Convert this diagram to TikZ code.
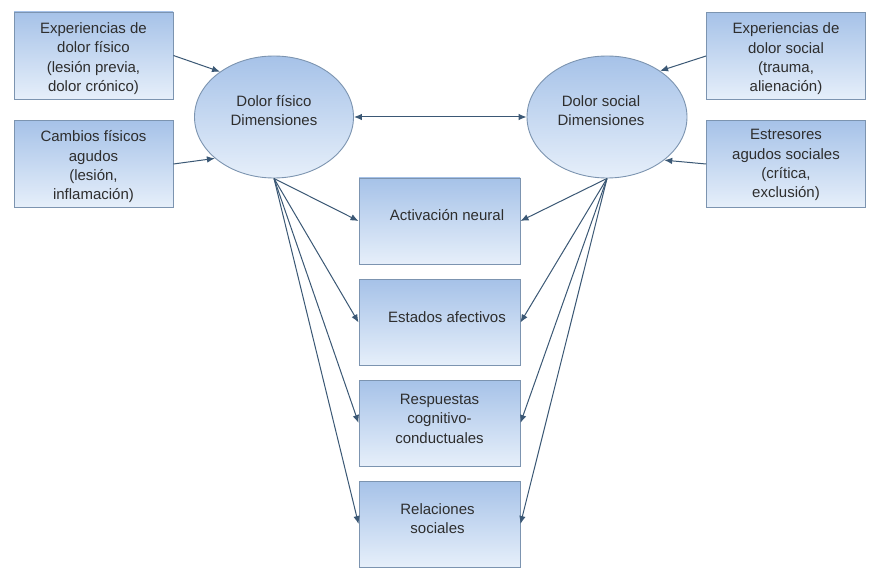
\documentclass[tikz,border=0pt]{standalone}
\usepackage{fontspec}
\setmainfont{Liberation Sans}
\usetikzlibrary{arrows.meta,shapes.geometric}
\definecolor{boxtop}{HTML}{A6C2E8}
\definecolor{boxbot}{HTML}{E6EFFA}
\definecolor{boxline}{HTML}{7C94B0}
\definecolor{arrowc}{HTML}{3B5875}
\newcommand{\placetext}[3]{\kern#1\raisebox{#2}[\height][\depth]{\begin{tabular}{@{}c@{}}#3\end{tabular}}}
\tikzset{
  txt/.style={font=\fontsize{15pt}{19.3pt}\selectfont, text=black!82},
  inbox/.style={txt, rectangle, draw=boxline, line width=0.9pt, top color=boxtop, bottom color=boxbot, minimum width=159pt, minimum height=87pt, inner sep=0pt},
  midbox/.style={inbox, minimum width=161pt, minimum height=86pt},
  dimell/.style={txt, ellipse, draw=boxline, line width=0.9pt, top color=boxtop, bottom color=boxbot, minimum width=159pt, minimum height=122pt, inner sep=0pt},
  arr/.style={draw=arrowc, line width=1pt, -{Latex[length=8pt,width=6.5pt]}},
  darr/.style={draw=arrowc, line width=1pt, {Latex[length=8pt,width=6.5pt]}-{Latex[length=8pt,width=6.5pt]}}
}
\begin{document}
\begin{tikzpicture}[x=1pt,y=1pt]
\useasboundingbox[fill=white] (0,0) rectangle (872,-572);
% left inputs
\node[inbox] (pe) at (93.5,-55.5) {\placetext{0pt}{-3pt}{Experiencias de\\dolor físico\\(lesión previa,\\dolor crónico)}};
\node[inbox] (pc) at (93.5,-164) {\placetext{0pt}{-3pt}{Cambios físicos\\agudos\\(lesión,\\inflamación)}};
% right inputs
\node[inbox] (se) at (786,-56) {\placetext{0pt}{-3pt}{Experiencias de\\dolor social\\(trauma,\\alienación)}};
\node[inbox] (sa) at (786,-164) {\placetext{0pt}{-1pt}{Estresores\\agudos sociales\\(crítica,\\exclusión)}};
% ellipses
\node[dimell] (lp) at (274,-117) {\placetext{0pt}{5pt}{Dolor físico\\Dimensiones}};
\node[dimell, minimum width=160pt] (sp) at (607,-117) {\placetext{-12pt}{5pt}{Dolor social\\Dimensiones}};
% middle boxes
\node[midbox] (an) at (439.5,-221) {\placetext{15pt}{4pt}{Activación neural}};
\node[midbox] (ea) at (439.5,-322.5) {\placetext{15pt}{4pt}{Estados afectivos}};
\node[midbox] (rc) at (439.5,-423) {\placetext{0pt}{3pt}{Respuestas\\cognitivo-\\conductuales}};
\node[midbox] (rs) at (439.5,-524) {\placetext{-4pt}{4pt}{Relaciones\\sociales}};
% input arrows
\draw[arr] (pe.east) -- (lp.140);
\draw[arr] (pc.east) -- (lp.215);
\draw[arr] (se.west) -- (sp.41);
\draw[arr] (sa.west) -- (sp.323);
% double arrow
\draw[darr] (lp.east) -- (sp.west);
% outputs
\foreach \t in {an,ea,rc,rs}{
  \draw[arr] (lp.south) -- (\t.west);
  \draw[arr] (sp.south) -- (\t.east);
}
\end{tikzpicture}
\end{document}
